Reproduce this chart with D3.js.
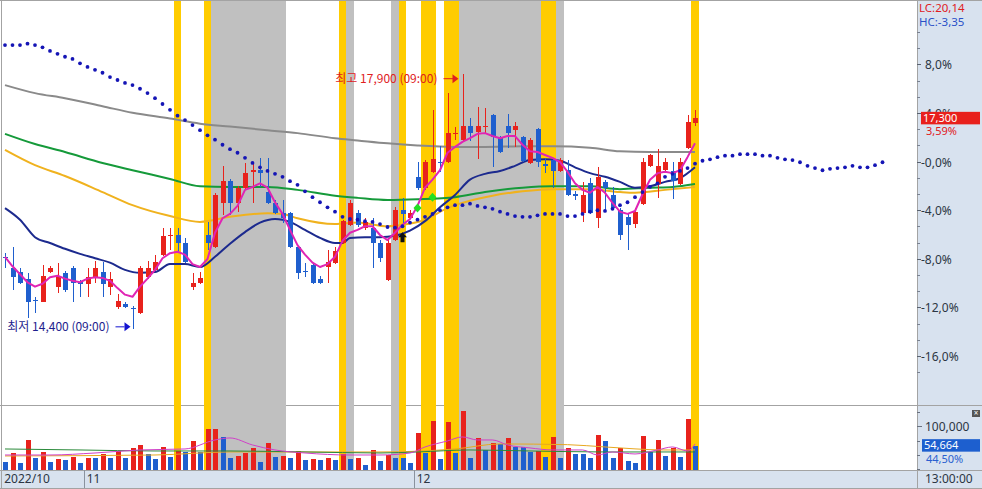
<!DOCTYPE html>
<html><head><meta charset="utf-8">
<script src="https://cdn.jsdelivr.net/npm/d3@7"></script>
<style>
html,body{margin:0;padding:0;background:#fff;}
svg{display:block;}
text{font-family:"Noto Sans","Noto Sans CJK KR",sans-serif;font-size:12px;}
</style></head><body>
<svg id="chart" width="982" height="489"></svg>
<script>
// ---------- DATA ----------
const basePrice = 16700;
const monthLabels = ["2022/10", "11", "12"];
const monthStartBar = [0, 11, 55];
const priceTickValues = [-16, -12, -8, -4, 0, 4, 8];
const priceTickLabels = ["-16,0%", "-12,0%", "-8,0%", "-4,0%", "-0,0%", "4,0%", "8,0%"];
const volumeTickValues = [0, 33333, 66667, 100000, 133333];
const volumeTickLabels = ["", "", "", "100,000", ""];

const open = [15390,15240,15180,15090,14800,14770,15180,14980,15170,15240,15040,15020,15110,15180,14980,14700,14740,14680,14620,15110,
15210,15420,15680,15690,15580,14980,15030,15690,15530,16130,16430,16130,16340,16560,16580,16280,16130,15990,15990,15530,
15190,15280,15090,15250,15310,15580,15830,15990,15790,15790,15580,15070,15620,16030,15920,16490,16340,16560,16700,16690,
17080,17000,17190,17110,17170,17340,17040,17190,17130,17040,16680,17150,16670,16720,16570,16580,16250,15990,16400,15920,
16420,16240,16030,15940,15840,16120,16640,16390,16580,16570,16390,16890,17230];
const high = [15440,15530,15240,15170,14840,15280,15260,15310,15200,15260,15070,15240,15330,15320,15180,14880,14770,14710,15260,15330,
15420,15790,15790,15790,15650,15170,15180,15870,16270,16640,16460,16360,16680,16680,16750,16750,16170,16170,16010,15540,
15310,15290,15130,15480,15530,15900,16170,16030,15920,15920,15620,15620,16080,16200,16030,16690,16720,17410,16910,17640,
17170,17900,17300,17450,17440,17350,17050,17350,17240,17050,17020,17160,16750,16750,16750,16720,16300,16420,16470,16620,
16450,16350,16060,15990,16060,16750,16800,16870,16750,16690,16750,17340,17410];
const low = [15240,14930,15020,14550,14620,14770,15170,14890,14910,14770,14840,14840,15030,14840,14870,14670,14690,14400,14600,15090,
15200,15400,15480,15460,15310,14930,15020,15480,15510,15960,15960,16010,16310,16130,16350,16120,15980,15850,15510,15090,
15110,15020,15020,15030,15290,15570,15810,15800,15760,15240,15320,15060,15610,15830,15910,16310,16310,16540,16560,16680,
17000,16970,16980,16730,17090,16620,16820,16890,16900,16690,16670,16620,16540,16340,16560,16230,16170,15870,15980,15790,
16010,16050,15620,15480,15790,16100,16620,16200,16570,16180,16380,16870,17190];
const close = [15380,15110,15030,14770,14780,15130,15240,15130,14930,15030,15020,15110,15240,15020,15090,14780,14700,14670,15240,15240,
15320,15680,15690,15580,15320,15030,15100,15580,16240,16430,16130,16340,16540,16580,16540,16130,15990,15920,15530,15170,
15180,15030,15030,15320,15470,15880,16130,15830,15870,15580,15370,15580,16030,15980,15990,16340,16690,16730,16690,17090,
17090,17190,17090,17190,17190,17040,16830,17090,17190,16710,17000,16690,16640,16570,16720,16240,16230,16240,15990,16490,
16340,16060,15690,15830,16010,16690,16790,16640,16690,16430,16690,17240,17300];
const volume = [17100,38200,14800,68000,26500,40600,17100,23500,21100,28900,14800,26500,26300,35200,26500,42900,26500,48600,56300,35200,
23500,52300,28900,42900,40600,65700,40600,93800,94300,75800,26500,31200,36800,48600,17100,61700,28900,31200,26500,42200,
21100,23500,21100,26500,21100,34500,23500,25100,9400,44600,18800,32800,26000,25500,14800,85200,37500,112600,23500,111000,
38200,136100,25100,73400,44600,61700,57900,73400,52300,50900,40600,41800,28900,75800,26500,50000,34500,34300,26500,79800,
66400,26500,48600,18800,13400,77400,39200,68000,31200,50000,28900,117300,54664];

// short moving average (per bar)
const maShort = [15390,15260,15150,15040,14980,15020,15110,15130,15090,15060,15040,15090,15110,15100,15060,14960,14870,14840,14980,15090,
15210,15370,15440,15460,15420,15290,15250,15360,15720,15920,15980,16090,16310,16350,16400,16340,16140,15980,15760,15550,
15420,15310,15250,15290,15390,15610,15720,15760,15810,15810,15690,15620,15720,15830,15910,16090,16340,16450,16580,16820,
16900,16970,17020,17080,17090,17050,17020,17050,17050,16930,16840,16830,16790,16750,16690,16560,16400,16310,16270,16350,
16270,16130,16010,15980,16020,16250,16450,16540,16560,16540,16580,16760,16950];
// smoother averages, read at sample bars
const maMidBars = [0,2,4,6,8,10,12,14,16,18,20,22,24,26,28,30,32,34,36,37,38,40,42,44,45,46,48,50,52,54,56,58,60,62,64,66,68,70,72,74,76,78,80,82,84,86,88,90,92];
const maMidVals = [16060,15900,15660,15580,15500,15430,15370,15310,15210,15170,15180,15290,15290,15250,15390,15570,15730,15860,15910,15900,
15870,15760,15650,15580,15580,15650,15660,15660,15680,15750,15880,16070,16240,16450,16530,16570,16640,16720,16730,16710,
16620,16540,16490,16420,16340,16360,16420,16470,16620];
const maOrangeBars = [0,4,8,13,17,22,26,30,35,37,39,44,47,51,53,56,59,62,65,69,73,78,82,84,88,92];
const maOrangeVals = [16860,16650,16500,16280,16100,15950,15870,15940,15990,15980,15920,15840,15860,15810,15830,15900,16060,16160,16230,16290,16320,16320,16280,16270,16310,16350];
const maGreenBars = [0,4,8,13,17,22,26,30,35,39,44,47,51,55,60,64,69,73,78,82,86,89,92];
const maGreenVals = [17080,16940,16830,16680,16580,16460,16360,16350,16350,16310,16230,16200,16170,16180,16210,16280,16340,16360,16360,16320,16340,16350,16390];
const maGrayBars = [0,4,8,13,17,22,26,30,35,39,44,47,51,55,60,64,69,73,78,82,86,92];
const maGrayVals = [17750,17640,17570,17460,17370,17290,17220,17180,17130,17090,17020,16990,16950,16920,16900,16900,16910,16910,16890,16840,16830,16830];
// dotted (forward-shifted) line, bars 0..117
const dotted = [18300,18300,18300,18320,18300,18270,18220,18180,18140,18110,18050,18000,17960,17920,17860,17820,17780,17750,17700,17640,
17570,17490,17410,17330,17270,17200,17130,17060,17000,16930,16870,16820,16750,16680,16620,16570,16530,16490,16430,16380,
16290,16210,16140,16070,16010,15940,15910,15900,15880,15870,15840,15800,15790,15810,15860,15900,15940,15980,16030,16070,
16100,16100,16120,16090,16070,16050,16010,15980,15950,15940,15940,15960,15980,15980,15980,15950,15950,15980,16010,16030,
16020,16050,16100,16140,16210,16280,16350,16400,16490,16530,16570,16610,16670,16710,16730,16760,16780,16780,16800,16800,
16800,16780,16780,16750,16730,16720,16690,16640,16610,16580,16600,16610,16620,16640,16620,16620,16650,16690];
// volume averages
const vol5Bars = [0,6,12,18,24,28,30,33,36,40,46,50,54,56,59,61,63,65,67,70,73,77,79,81,84,87,89,91,92];
const vol5Vals = [32800,32800,37500,44600,46900,68000,72700,56300,44600,37500,32800,32800,37500,51600,65700,75100,68000,68000,56300,49300,44600,44600,32800,39900,35200,44600,51600,42200,58700];
const vol20Bars = [0,10,20,30,40,50,55,62,70,80,92];
const vol20Vals = [46900,44600,42200,42200,39900,37500,39900,44600,42200,39900,39900];
const vol60Bars = [0,20,30,50,60,66,75,80,88,92];
const vol60Vals = [30500,32800,39900,39900,46900,58700,57000,51600,44600,44600];

// highlighted periods
const yellowBars = [23,27,45,53,56,57,59,60,72,73,92];
const grayBars = [28,29,30,31,32,33,34,35,36,37,46,52,61,62,63,64,65,66,67,68,69,70,71,74];
// signals
const buyArrowBars = [53];
const buyArrowVals = [15660];
const diamondBars = [55, 57];
const diamondVals = [16060, 16210];
const highBar = 61, highPrice = 17900, lowBar = 17, lowPrice = 14400;

// ---------- CHART ----------
const svg = d3.select("#chart");
const plotRight = 917;
const x = d3.scaleLinear().domain([0, 121.6]).range([5, 917]);
const yPct = d3.scaleLinear().domain([-16, 8]).range([355.9, 64.3]);
const y = p => yPct((p / basePrice - 1) * 100);
const yVol = d3.scaleLinear().domain([0, 100000]).range([469, 426.3]);
const step = x(1) - x(0);
const RED = "#e8221c", BLUE = "#1f5fce";

const defs = svg.append("defs");
defs.append("clipPath").attr("id","clipMain").append("rect").attr("x",1).attr("y",1).attr("width",plotRight-1).attr("height",404);
defs.append("clipPath").attr("id","clipVol").append("rect").attr("x",1).attr("y",406).attr("width",plotRight-1).attr("height",64);

// backgrounds
svg.append("rect").attr("x",0).attr("y",0).attr("width",982).attr("height",489).attr("fill","#fff");
svg.append("rect").attr("x",plotRight).attr("y",0).attr("width",982-plotRight).attr("height",489).attr("fill","#d8e2ef");
svg.append("rect").attr("x",0).attr("y",470).attr("width",982).attr("height",19).attr("fill","#d8e2ef");

// frame lines
const frame = svg.append("g").attr("stroke","#a3a3a3").attr("stroke-width",1);
frame.append("line").attr("x1",0).attr("x2",982).attr("y1",0.5).attr("y2",0.5);
frame.append("line").attr("x1",1.5).attr("x2",1.5).attr("y1",0).attr("y2",489);
frame.append("line").attr("x1",0).attr("x2",982).attr("y1",405.5).attr("y2",405.5);
frame.append("line").attr("x1",0).attr("x2",982).attr("y1",470.5).attr("y2",470.5);
frame.append("line").attr("x1",0).attr("x2",982).attr("y1",488.5).attr("y2",488.5);
frame.append("line").attr("x1",plotRight+0.5).attr("x2",plotRight+0.5).attr("y1",0).attr("y2",489);

// bands (consecutive bars merged into one block)
function runs(list) {
  const s = [...list].sort((a,b)=>a-b), out = [];
  s.forEach(i => { const last = out[out.length-1]; if (last && i === last[1]+1) last[1] = i; else out.push([i,i]); });
  return out;
}
const bands = svg.append("g").attr("shape-rendering","crispEdges");
const drawBands = (list, color) => runs(list).forEach(([a,b]) => {
  const x0 = Math.round(x(a)-step/2), x1 = Math.round(x(b)+step/2);
  bands.append("rect").attr("x",x0).attr("y",1).attr("width",x1-x0).attr("height",469).attr("fill",color);
});
drawBands(grayBars, "#c0c0c0");
drawBands(yellowBars, "#ffcc00");

// main plot
const gMain = svg.append("g").attr("clip-path","url(#clipMain)");
const zip = (a,b) => a.map((v,k)=>[v,b[k]]);
const lineSmooth = d3.line().x(d=>x(d[0])).y(d=>y(d[1])).curve(d3.curveMonotoneX);
const drawLine = (bars, vals, color, w) => gMain.append("path").datum(zip(bars, vals))
  .attr("d", lineSmooth).attr("fill","none").attr("stroke",color).attr("stroke-width",w).attr("stroke-linejoin","round");
drawLine(maGrayBars, maGrayVals, "#8a8a8a", 2);
drawLine(maGreenBars, maGreenVals, "#159a3a", 2);
drawLine(maOrangeBars, maOrangeVals, "#f0b21e", 2);
drawLine(maMidBars, maMidVals, "#1c2a8e", 2);

// candles
const candles = gMain.append("g").attr("shape-rendering","crispEdges");
open.forEach((o,i) => {
  const c = close[i], col = c > o ? RED : BLUE;
  const cx = Math.round(x(i));
  candles.append("rect").attr("x",cx).attr("y",Math.round(y(high[i]))).attr("width",1).attr("height",Math.max(1,Math.round(y(low[i]))-Math.round(y(high[i])))).attr("fill",col);
  const top = Math.round(y(Math.max(o,c))), bot = Math.round(y(Math.min(o,c)));
  candles.append("rect").attr("x",cx-2).attr("y",top).attr("width",5).attr("height",Math.max(1,bot-top)).attr("fill",col);
});

// short MA
gMain.append("path").datum(maShort.map((v,i)=>[i,v]))
  .attr("d", d3.line().x(d=>x(d[0])).y(d=>y(d[1]))).attr("fill","none").attr("stroke","#e024b4").attr("stroke-width",2).attr("stroke-linejoin","round");

// dotted line
gMain.append("g").selectAll("circle").data(dotted).join("circle")
  .attr("cx",(d,i)=>x(i)).attr("cy",d=>y(d)).attr("r",1.9).attr("fill","#1515b5");

// signals
buyArrowBars.forEach((b,k) => {
  const cx = x(b), cy = y(buyArrowVals[k]);
  gMain.append("path").attr("d",`M${cx},${cy-5} L${cx+4.5},${cy} L${cx+2},${cy} L${cx+2},${cy+5} L${cx-2},${cy+5} L${cx-2},${cy} L${cx-4.5},${cy} Z`).attr("fill","#111");
});
diamondBars.forEach((b,k) => {
  const cx = x(b), cy = y(diamondVals[k]);
  gMain.append("path").attr("d",`M${cx},${cy-4.5} L${cx+4},${cy} L${cx},${cy+4.5} L${cx-4},${cy} Z`).attr("fill","#22e022");
});

// high / low annotations
const hx = x(highBar), hy = y(highPrice);
gMain.append("text").attr("x",hx-25).attr("y",hy+9).attr("text-anchor","end").attr("fill","#e0201e")
  .style("font-family","'Noto Sans CJK KR',sans-serif").text("최고 17,900 (09:00)");
gMain.append("line").attr("x1",hx-19).attr("x2",hx-9).attr("y1",hy+4.5).attr("y2",hy+4.5).attr("stroke","#e0201e").attr("stroke-width",1);
gMain.append("path").attr("d",`M${hx-4},${hy+4.5} L${hx-10},${hy} L${hx-10},${hy+9} Z`).attr("fill","#e0201e");
const lx = x(lowBar), ly = y(lowPrice);
gMain.append("text").attr("x",lx-23).attr("y",ly+2.5).attr("text-anchor","end").attr("fill","#1e1e8e")
  .style("font-family","'Noto Sans CJK KR',sans-serif").text("최저 14,400 (09:00)");
gMain.append("line").attr("x1",lx-17).attr("x2",lx-8).attr("y1",ly-2).attr("y2",ly-2).attr("stroke","#1414d0").attr("stroke-width",1);
gMain.append("path").attr("d",`M${lx-2},${ly-2} L${lx-8},${ly-6.5} L${lx-8},${ly+2.5} Z`).attr("fill","#1414d0");

// volume panel
const gVol = svg.append("g").attr("clip-path","url(#clipVol)");
const volBars = gVol.append("g").attr("shape-rendering","crispEdges");
volume.forEach((v,i) => {
  const col = (i > 0 && v > volume[i-1]) ? RED : BLUE;
  const cx = Math.round(x(i));
  const top = Math.round(yVol(v));
  volBars.append("rect").attr("x",cx-2).attr("y",top).attr("width",5).attr("height",470-top).attr("fill",col);
});
const volLine = d3.line().x(d=>x(d[0])).y(d=>yVol(d[1])).curve(d3.curveMonotoneX);
gVol.append("path").datum(zip(vol60Bars,vol60Vals)).attr("d",volLine).attr("fill","none").attr("stroke","#e8a820").attr("stroke-width",1);
gVol.append("path").datum(zip(vol20Bars,vol20Vals)).attr("d",volLine).attr("fill","none").attr("stroke","#2a8a3a").attr("stroke-width",1);
gVol.append("path").datum(zip(vol5Bars,vol5Vals)).attr("d",volLine).attr("fill","none").attr("stroke","#d040c8").attr("stroke-width",1);

// price axis
const axisColor = "#2c3644";
const pAxis = svg.append("g");
const minor = [];
priceTickValues.forEach(v => { minor.push(v+4/3, v+8/3); });
minor.push(8+4/3, 8+8/3, -16-4/3);
minor.forEach(v => {
  const yy = Math.round(yPct(v))+0.5;
  if (yy > 30 && yy < 404) pAxis.append("line").attr("x1",plotRight).attr("x2",plotRight+3).attr("y1",yy).attr("y2",yy).attr("stroke","#7a8290");
});
priceTickValues.forEach((v,k) => {
  const yy = Math.round(yPct(v))+0.5;
  pAxis.append("line").attr("x1",plotRight).attr("x2",plotRight+4).attr("y1",yy).attr("y2",yy).attr("stroke","#5a6270");
  const neg = priceTickLabels[k].startsWith("-");
  pAxis.append("text").attr("x", neg ? plotRight+4 : plotRight+8).attr("y",yy+4.5).attr("fill",axisColor).text(priceTickLabels[k]);
});
svg.append("text").attr("x",919).attr("y",12).attr("fill","#e0201e").style("font-size","11.5px").text("LC:20,14");
svg.append("text").attr("x",919).attr("y",26).attr("fill","#2a50c8").style("font-size","11.5px").text("HC:-3,35");
// current price tag
const lastClose = close[close.length-1];
const tagY = y(lastClose);
svg.append("rect").attr("x",921).attr("y",tagY-6).attr("width",59).attr("height",12.5).attr("fill","#e8201c");
svg.append("text").attr("x",923).attr("y",tagY+4).attr("fill","#fff").style("font-size","11px").text(d3.format(",")(lastClose));
svg.append("text").attr("x",926).attr("y",tagY+17.5).attr("fill","#e0201e").style("font-size","11px").text(((lastClose/basePrice-1)*100).toFixed(2).replace(".",",")+"%");

// volume axis
volumeTickValues.forEach((v,k) => {
  const yy = Math.round(yVol(v))+0.5;
  if (yy < 406) return;
  svg.append("line").attr("x1",plotRight).attr("x2",plotRight+(volumeTickLabels[k]?5:3)).attr("y1",yy).attr("y2",yy).attr("stroke","#6a7280");
  if (volumeTickLabels[k]) svg.append("text").attr("x",925).attr("y",yy+4.5).attr("fill",axisColor).text(volumeTickLabels[k]);
});
const lastVol = volume[volume.length-1];
const vTagY = yVol(lastVol);
svg.append("rect").attr("x",922).attr("y",vTagY-6.5).attr("width",58).attr("height",12.5).attr("fill","#1d5fcf");
svg.append("text").attr("x",924).attr("y",vTagY+3.5).attr("fill","#fff").style("font-size","11px").text(d3.format(",")(lastVol));
svg.append("text").attr("x",926).attr("y",vTagY+17).attr("fill","#2a5fd0").style("font-size","11px").text("44,50%");
svg.append("rect").attr("x",972).attr("y",410).attr("width",8).attr("height",7).attr("fill","#555");
svg.append("text").attr("x",976).attr("y",416).attr("text-anchor","middle").attr("fill","#fff").style("font-size","8px").text("×");

// time axis
monthLabels.forEach((lab,k) => {
  const bx = x(monthStartBar[k]-0.5);
  if (k > 0) svg.append("line").attr("x1",Math.round(bx)+0.5).attr("x2",Math.round(bx)+0.5).attr("y1",470).attr("y2",488).attr("stroke","#8a929e");
  svg.append("text").attr("x",Math.max(3,bx+3)).attr("y",483).attr("fill",axisColor).text(lab);
});
svg.append("text").attr("x",925).attr("y",483).attr("fill",axisColor).text("13:00:00");
</script>
</body></html>
